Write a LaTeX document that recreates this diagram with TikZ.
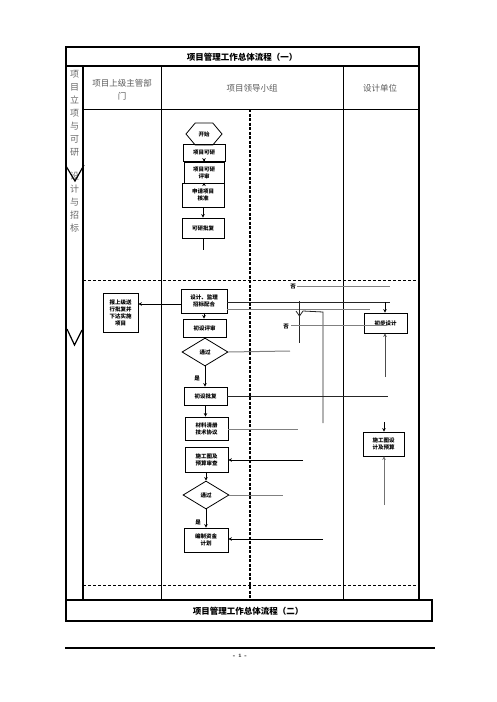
\documentclass[tikz,border=0pt]{standalone}
\usepackage{fontspec}
\newfontfamily\cjk{Noto Sans CJK SC}
\usetikzlibrary{shapes.geometric,shapes.symbols,arrows.meta}
\tikzset{
  fbox/.style={draw, line width=0.8pt, font=\cjk\bfseries\fontsize{5.5}{7}\selectfont, align=center, inner sep=0pt},
  fdia/.style={draw, diamond, line width=0.8pt, font=\cjk\bfseries\fontsize{5.5}{7}\selectfont, inner sep=0pt},
  lane/.style={font=\cjk\fontsize{8.5}{13}\selectfont, text=black!65, align=center},
  vchar/.style={font=\cjk\fontsize{9}{10}\selectfont, text=black!60, inner sep=0pt},
  lbl/.style={font=\cjk\bfseries\fontsize{5.5}{6}\selectfont, inner sep=0pt},
  arr/.style={line width=0.8pt, -{Stealth[length=3.5pt,width=3.5pt]}},
  blk/.style={line width=0.8pt, black!85},
  gry/.style={line width=1pt, black!50},
  frame/.style={line width=1.4pt},
}
\begin{document}
\begin{tikzpicture}[x=1pt,y=-1pt]
\useasboundingbox (0,0) rectangle (496,702);
% table frame
\draw[frame] (66,47) rectangle (419,66);
\node[font=\cjk\bfseries\fontsize{8.5}{10}\selectfont] (title1) at (242,57) {项目管理工作总体流程（一）};
\draw[frame] (66,66) rectangle (419,600);
\draw[line width=2pt] (83,66) -- (83,600);
\draw[line width=2pt] (66,66) -- (66,600);
\draw[line width=0.8pt] (83,109) -- (419,109);
\draw[line width=0.8pt] (161,66) -- (161,600);
\draw[line width=0.8pt] (343,66) -- (343,600);
\draw[line width=1.4pt, dash pattern=on 3pt off 1.5pt] (250,109) -- (250,600);
\draw[line width=0.7pt, dash pattern=on 3pt off 2pt] (83,280) -- (419,280);
\draw[line width=0.7pt, dash pattern=on 3pt off 2pt] (83,585) -- (419,585);
\draw[frame] (66,600) rectangle (432,621);
\node[font=\cjk\bfseries\fontsize{8.5}{10}\selectfont] (title2) at (248,611) {项目管理工作总体流程（二）};
% footer
\draw[line width=1.6pt] (65,648) -- (435,648);
\node[font=\bfseries\fontsize{5}{6}\selectfont] (page) at (240,656) {- 1 -};
% lane headers
\node[lane] (h1) at (122,90) {项目上级主管部\\门};
\node[lane] (h2) at (252,88) {项目领导小组};
\node[lane] (h3) at (380,88) {设计单位};
% vertical stage labels
\foreach \c [count=\i] in {项,目,立,项,与,可,研}
  \node[vchar] (va\i) at (74.5,61+13*\i) {\c};
\foreach \c [count=\i] in {设,计,与,招,标}
  \node[vchar] (vb\i) at (74.5,163+13*\i) {\c};
\draw[line width=1.2pt] (66,166) -- (75,181) -- (84,165);
\draw[line width=1.2pt] (67,329) -- (74.5,345) -- (82,330);
% stage 1 flow
\node[signal, signal to=west and east, signal pointer angle=100, draw, line width=0.8pt,
      minimum width=36pt, minimum height=22pt, inner sep=0pt,
      font=\cjk\bfseries\fontsize{5.5}{7}\selectfont] (start) at (204,134) {开始};
\node[fbox, minimum width=42pt, minimum height=17pt] (kyan) at (204,152.5) {项目可研};
\node[fbox, minimum width=40pt, minimum height=21pt] (ping) at (204,172.5) {项目可研\\评审};
\node[fbox, minimum width=42pt, minimum height=24pt] (shen) at (203,195) {申请项目\\核准};
\node[fbox, minimum width=42pt, minimum height=20pt] (pifu) at (203,228) {可研批复};
\coordinate (pstub) at (203,250);
\draw[line width=0.8pt] (start.south) -- (kyan.north);
\draw[arr] (kyan.south) -- (kyan.south |- ping.north);
\draw[arr] (ping.south) -- (ping.south |- shen.north);
\draw[arr] (shen.south) -- (shen.south |- pifu.north);
\draw[line width=0.8pt] (pifu.south) -- (pstub);
% stage 2 flow
\node[fbox, minimum width=35pt, minimum height=39pt] (bao) at (120.5,312.5) {报上级送\\行批复并\\下达实施\\项目};
\node[fbox, minimum width=46pt, minimum height=24pt] (sheji) at (204,301) {设计、监理\\招标配合};
\node[fbox, minimum width=43pt, minimum height=18pt] (chushe) at (204.5,328) {初设评审};
\node[fdia, minimum width=46pt, minimum height=28pt] (pass1) at (205,352) {通过};
\node[fbox, minimum width=43pt, minimum height=18pt] (chupi) at (205.5,396) {初设批复};
\node[fbox, minimum width=43pt, minimum height=23pt] (cail) at (206.5,428.5) {材料清册\\技术协议};
\node[fbox, minimum width=43pt, minimum height=25pt] (shig) at (206.5,459.5) {施工图及\\预算审查};
\node[fdia, minimum width=46pt, minimum height=28pt] (pass2) at (206,495) {通过};
\node[fbox, minimum width=44pt, minimum height=24pt] (bian) at (206,540) {编制资金\\计划};
\node[fbox, minimum width=43pt, minimum height=20pt] (chubu) at (385.5,323) {初步设计};
\node[fbox, minimum width=41pt, minimum height=24pt] (sgt) at (383.5,444) {施工图设\\计及预算};
\draw[arr] (sheji.west |- 0,304) -- (bao.east |- 0,304);
\draw[arr] (204,313) -- (chushe.north -| 204,0);
\draw[line width=0.8pt] (chushe.south -| 205,0) -- (pass1.north);
\draw[arr] (pass1.south) -- (pass1.south |- chupi.north);
\node[lbl] (yes1) at (197,378) {是};
\draw[arr] (chupi.south) -- (chupi.south |- cail.north);
\draw[arr] (shig.south -| pass2.north) -- (pass2.north);
\draw[arr] (pass2.south) -- (pass2.south |- bian.north);
\node[lbl] (yes2) at (198,522) {是};
% right side connectors
\coordinate (a1) at (297,286); \coordinate (a2) at (390,286);
\node[lbl] (no1) at (293,287) {否};
\draw[gry] (a1) -- (a2);
\coordinate (b2) at (390,302);
\draw[blk] (sheji.east |- 0,302) -- (b2);
\coordinate (c2) at (370,309);
\draw[gry] (sheji.east |- 0,309) -- (c2);
\coordinate (d1) at (299,301); \coordinate (d2) at (299,343);
\draw[blk] (d1) -- (d2);
\coordinate (d3) at (385,302);
\draw[arr] (d3) -- (d3 |- chubu.north);
\coordinate (e1) at (296,311); \coordinate (e2) at (299.5,316); \coordinate (e3) at (303,311);
\coordinate (e4) at (323,312); \coordinate (e5) at (323,423);
\draw[blk] (e1) -- (e2) -- (e3) -- (e4) -- (e5);
\node[lbl] (no2) at (286,327) {否};
\coordinate (f1) at (291,325); \coordinate (f2) at (387,325);
\draw[gry] (f1) -- (f2);
\coordinate (g2) at (290,351);
\draw[gry] (pass1.east) -- (g2);
\coordinate (h1) at (385,377);
\draw[arr, black!70] (h1) -- (h1 |- chubu.south);
\coordinate (i2) at (388,396);
\draw[blk] (chupi.east) -- (i2);
\coordinate (j2) at (298,429);
\draw[gry] (cail.east |- j2) -- (j2);
\coordinate (k1) at (303,460);
\draw[arr] (k1) -- (k1 -| shig.east);
\coordinate (l2) at (283,495);
\draw[gry] (pass2.east) -- (l2);
\coordinate (m1) at (323,539);
\draw[arr] (m1) -- (m1 -| bian.east);
\coordinate (n1) at (384,422);
\draw[arr] (n1) -- (n1 |- sgt.north);
\coordinate (o1) at (384,505);
\draw[arr, black!55] (o1) -- (o1 |- sgt.south);
\end{tikzpicture}
\end{document}
